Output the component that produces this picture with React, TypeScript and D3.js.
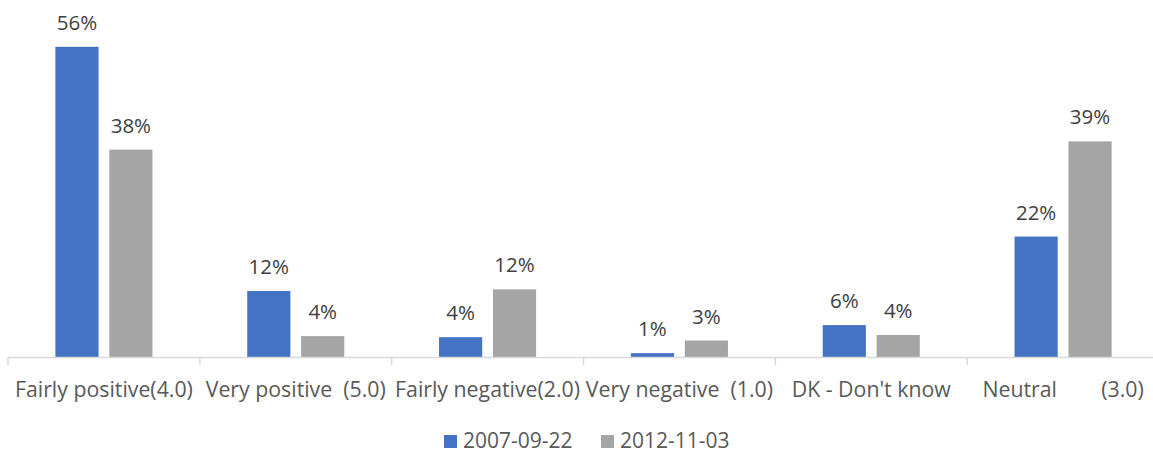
import React from 'react';
import * as d3 from 'd3';

const categories = [
  'Fairly positive(4.0)',
  'Very positive  (5.0)',
  'Fairly negative(2.0)',
  'Very negative  (1.0)',
  "DK - Don't know",
  'Neutral        (3.0)',
];
const seriesNames = ['2007-09-22', '2012-11-03'];
const values2007 = [56.4, 12.0, 3.6, 0.7, 5.8, 21.9];
const values2012 = [37.7, 3.8, 12.3, 3.0, 4.0, 39.2];
const seriesColors = ['#4472C4', '#A5A5A5'];

const W = 1153;
const H = 453;
const FONT = '"Open Sans", "Segoe UI", sans-serif';

export default function App() {
  const left = 8;
  const right = 1159;
  const baseline = 357;

  const x0 = d3.scaleBand<string>()
    .domain(categories)
    .range([left, right])
    .paddingInner(0.494)
    .paddingOuter(0.247);

  const x1 = d3.scaleBand<string>()
    .domain(seriesNames)
    .range([0, x0.bandwidth()])
    .paddingInner(0.2);

  const y = d3.scaleLinear().domain([0, 60]).range([baseline, baseline - 330]);

  const step = x0.step();
  const tickXs = d3.range(categories.length + 1).map(i => left + i * step);

  const series = [values2007, values2012];

  return (
    <div style={{ position: 'absolute', left: 0, top: 0 }}>
      <svg width={W} height={H} style={{ display: 'block', background: '#fff' }} fontFamily={FONT}>
        {categories.map((c, ci) => (
          <g key={c}>
            {seriesNames.map((s, si) => {
              const v = series[si][ci];
              const bx = x0(c)! + x1(s)!;
              const bw = x1.bandwidth();
              return (
                <g key={s}>
                  <rect x={bx} y={y(v)} width={bw} height={baseline - y(v)} fill={seriesColors[si]} />
                  <text x={bx + bw / 2} y={y(v) - 17} textAnchor="middle" fontSize={20.5} fill="#404040">
                    {`${Math.round(v)}%`}
                  </text>
                </g>
              );
            })}
          </g>
        ))}

        {/* axis */}
        <line x1={left} x2={right} y1={baseline + 0.5} y2={baseline + 0.5} stroke="#D9D9D9" strokeWidth={1.5} />
        {tickXs.map((tx, i) => (
          <line key={i} x1={tx} x2={tx} y1={baseline} y2={baseline + 8} stroke="#D9D9D9" strokeWidth={1.5} />
        ))}
        {categories.map(c => (
          <text key={c} x={x0(c)! + x0.bandwidth() / 2} y={397} textAnchor="middle" fontSize={21.3}
            fill="#595959" style={{ whiteSpace: 'pre' }}>
            {c}
          </text>
        ))}

        {/* legend */}
        {seriesNames.map((s, i) => {
          const lx = i === 0 ? 444 : 601;
          return (
            <g key={s}>
              <rect x={lx} y={435} width={13} height={13} fill={seriesColors[i]} />
              <text x={lx + 19} y={448} fontSize={21} fill="#595959">{s}</text>
            </g>
          );
        })}
      </svg>
    </div>
  );
}
